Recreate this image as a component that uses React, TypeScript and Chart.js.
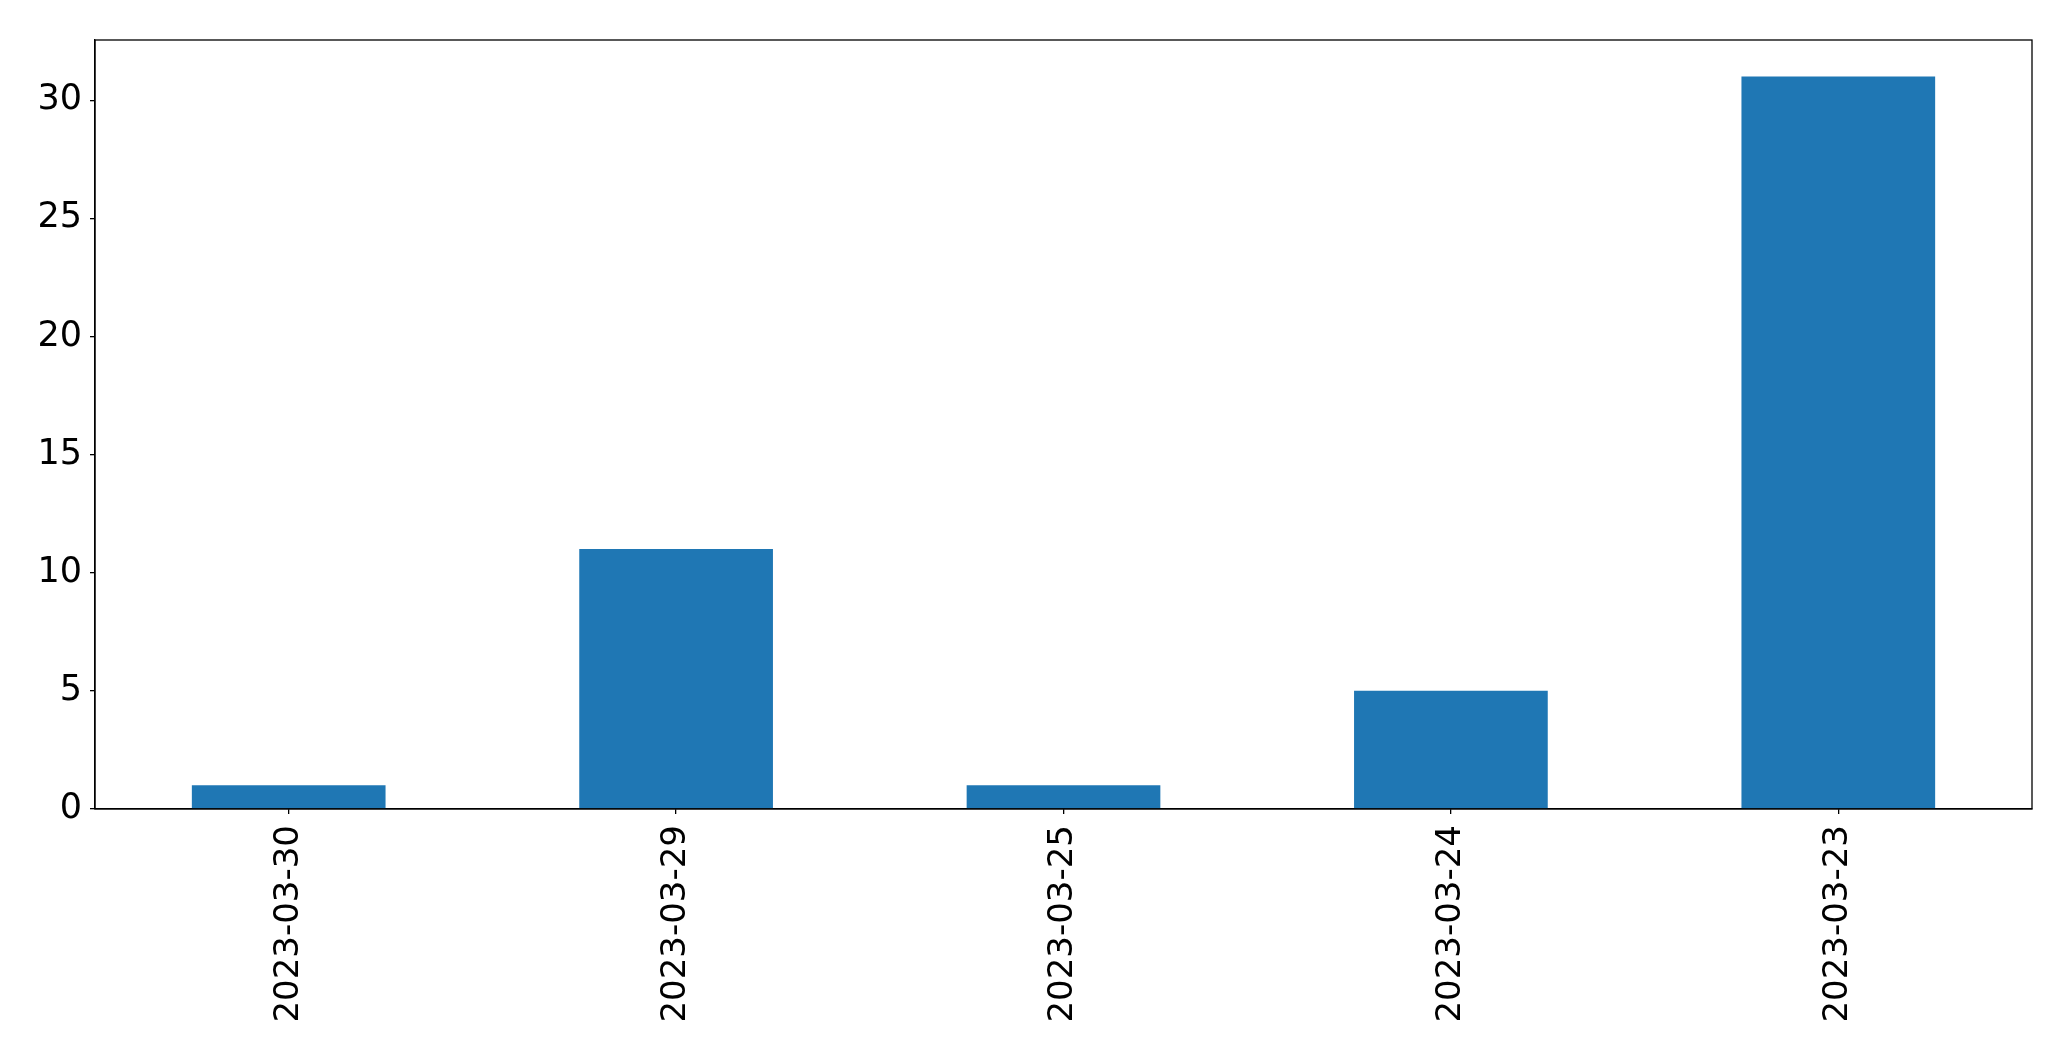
import React, { useEffect, useRef } from "react";
import { Chart, registerables } from "chart.js";

Chart.register(...registerables);

const categories = ["2023-03-30", "2023-03-29", "2023-03-25", "2023-03-24", "2023-03-23"];
const counts = [1, 11, 1, 5, 31];
const yTicks = [0, 5, 10, 15, 20, 25, 30];
const yMax = 32.55;

const FONT = "'DejaVu Sans', sans-serif";

const framePlugin = {
  id: "frame",
  afterDraw(chart: any) {
    const { ctx, chartArea } = chart;
    ctx.save();
    ctx.strokeStyle = "#000";
    ctx.lineWidth = 1.3;
    ctx.strokeRect(chartArea.left, chartArea.top, chartArea.right - chartArea.left, chartArea.bottom - chartArea.top);
    ctx.restore();
  },
};

export default function App() {
  const ref = useRef<HTMLCanvasElement | null>(null);
  useEffect(() => {
    if (!ref.current) return;
    const chart = new Chart(ref.current, {
      type: "bar",
      data: {
        labels: categories,
        datasets: [
          {
            data: counts,
            backgroundColor: "#1f77b4",
            borderWidth: 0,
            barPercentage: 0.5,
            categoryPercentage: 1,
          },
        ],
      },
      plugins: [framePlugin],
      options: {
        responsive: false,
        animation: false,
        devicePixelRatio: 1,
        layout: { padding: { left: 0, right: 39, top: 40, bottom: 0 } },
        plugins: { legend: { display: false }, tooltip: { enabled: false } },
        scales: {
          x: {
            offset: true,
            grid: { display: true, offset: false, drawOnChartArea: false, drawTicks: true, tickLength: 5, color: "#000", lineWidth: 1.3 },
            border: { display: true, color: "#000", width: 1.3 },
            ticks: {
              color: "#000",
              font: { family: FONT, size: 34 },
              minRotation: 90,
              maxRotation: 90,
              padding: 11,
              autoSkip: false,
            },
            afterFit: (axis: any) => {
              axis.height = 252;
            },
          },
          y: {
            min: 0,
            max: yMax,
            grid: { display: true, drawOnChartArea: false, drawTicks: true, tickLength: 5, color: "#000", lineWidth: 1.3 },
            border: { display: true, color: "#000", width: 1.3 },
            ticks: {
              color: "#000",
              font: { family: FONT, size: 35 },
              padding: 8,
            },
            afterBuildTicks: (axis: any) => {
              axis.ticks = yTicks.map((v) => ({ value: v }));
            },
            afterFit: (axis: any) => {
              axis.width = 95;
            },
          },
        },
      },
    });
    return () => chart.destroy();
  }, []);
  return (
    <div style={{ position: "fixed", left: 0, top: 0, width: 2071, height: 1061, background: "#fff" }}>
      <canvas ref={ref} width={2071} height={1061} style={{ width: 2071, height: 1061, display: "block" }} />
    </div>
  );
}
